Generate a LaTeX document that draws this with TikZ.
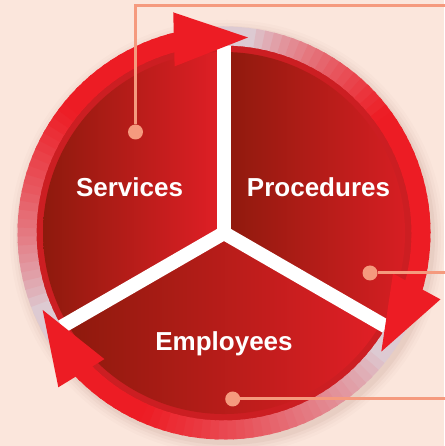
\documentclass[tikz,border=0pt]{standalone}
\usepackage{fontspec}
\setmainfont{Liberation Sans}
\usetikzlibrary{calc}
\definecolor{bg}{HTML}{FBE6DC}
\definecolor{ringred}{HTML}{ED1C24}
\definecolor{fadec}{HTML}{DDCAD2}
\definecolor{salmon}{HTML}{F59A7E}
\definecolor{darkred}{HTML}{8E1A0D}
\definecolor{brightred}{HTML}{E11F26}
\definecolor{rimred}{HTML}{CC1E22}
\definecolor{shadowc}{HTML}{A07060}
\begin{document}
\begin{tikzpicture}[x=1pt,y=1pt,
  labeltext/.style={text=white, font=\fontsize{26}{30}\selectfont\bfseries, anchor=base, inner sep=0pt},
  dotnode/.style={circle, fill=salmon, minimum size=15pt, inner sep=0pt},
  leader/.style={draw=salmon, line width=3pt},
  barline/.style={white, line width=14pt},
  sector/.style={left color=darkred, right color=brightred},
  ]
\fill[bg] (0,0) rectangle (444,446);
\useasboundingbox (0,0) rectangle (444,446);
\coordinate (c) at (224,213);
% soft shadow
\foreach \r/\o in {217/0.03,214/0.04,211/0.06,208/0.08}
  \fill[shadowc, opacity=\o] ($(c)+(3,-4)$) circle[radius=\r];
% disk
\fill[rimred] (c) circle[radius=188];
\shade[sector] (c) -- ++(90:181) arc[start angle=90,end angle=210,radius=181] -- cycle;
\shade[sector] (c) -- ++(-30:181) arc[start angle=-30,end angle=90,radius=181] -- cycle;
\shade[sector] (c) -- ++(210:181) arc[start angle=210,end angle=330,radius=181] -- cycle;
% white bars
\foreach \a in {90,210,330} \draw[barline] (c) -- ++(\a:188);
\fill[white] (c) circle[radius=7];
% ring bodies with fade
\foreach \t/\L in {83/60,-37/45,203/75} {
  \foreach \k in {0,...,50} {
    \pgfmathsetmacro\aone{\t+138-\k*2.5}
    \pgfmathsetmacro\atwo{\aone-3.5}
    \pgfmathsetmacro\prog{max(0,min(1,(\t+120-\aone)/\L))}
    \pgfmathtruncatemacro\pc{100*(\prog^0.75)}
    \draw[line width=19pt, ringred!\pc!fadec] (c) ++(\aone:197) arc[start angle=\aone, end angle=\atwo, radius=197];
  }
}
% arrowheads
\foreach \t in {83,-37,203} {
  \pgfmathsetmacro\b{\t+21.5}
  \coordinate (T) at ($(c)+(\t:197)$);
  \coordinate (P) at ($(c)+(\b:200)$);
  \fill[ringred] ($(P)!27pt!90:(T)$) -- (T) -- ($(P)!27pt!-90:(T)$) -- cycle;
}
% labels
\node[labeltext] (services) at (129.5,249) {Services};
\node[labeltext] (procedures) at (318.5,249) {Procedures};
\node[labeltext] (employees) at (224,95) {Employees};
% leaders
\node[dotnode] (d1) at (135.5,314) {};
\coordinate (e1) at (446,440.3);
\draw[leader] (d1) |- (e1);
\node[dotnode] (d2) at (370,173) {};
\coordinate (e2) at (446,173);
\draw[leader] (d2) -- (e2);
\node[dotnode] (d3) at (232.7,47) {};
\coordinate (e3) at (446,47);
\draw[leader] (d3) -- (e3);
\end{tikzpicture}
\end{document}
